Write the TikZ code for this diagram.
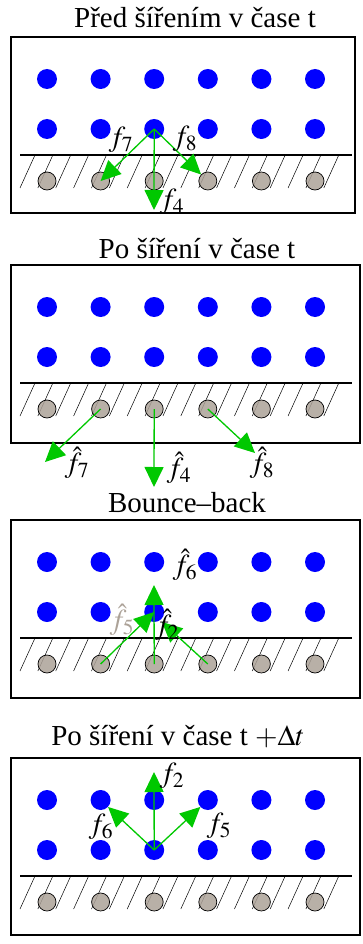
\documentclass[tikz,border=0pt]{standalone}
\usepackage{mathptmx}
\usepackage{fontspec}
\setmainfont{Liberation Serif}
\usetikzlibrary{arrows.meta}

\definecolor{flowgreen}{RGB}{0,200,0}
\definecolor{wallgray}{RGB}{172,162,152}

\tikzset{
  fluid/.style={circle,fill=blue,inner sep=0pt,minimum size=20pt},
  wallnode/.style={circle,draw=black,line width=0.7pt,fill=wallgray,fill opacity=0.85,inner sep=0pt,minimum size=18pt},
  flow/.style={draw=flowgreen,line width=1.3pt,-{Triangle[length=20pt,width=19pt]}},
  lab/.style={font=\fontsize{29}{29}\selectfont,inner sep=0pt},
  heading/.style={font=\fontsize{29}{29}\selectfont,anchor=base,inner sep=0pt}
}

% #1 prefix, #2 top of box, #3 right edge, #4 bottom of box
\newcommand{\lbmlattice}[4]{%
  \draw [line width=1.4pt] (11,#2) rectangle (#3,#4);
  \foreach \c in {0,...,5} {
    \node [fluid] (#1u\c) at (47+53.6*\c,#2+42) {};
    \node [fluid] (#1l\c) at (47+53.6*\c,#2+92) {};
  }
  \draw [line width=1.1pt] (20,#2+118) -- (352,#2+118);
  \foreach \k in {0,...,17}
    \draw [line width=0.5pt] (20+17.87*\k,#2+151) -- ++(15,-33);
  \foreach \c in {0,...,5}
    \node [wallnode] (#1w\c) at (47+53.6*\c,#2+144) {};
}

\begin{document}
\begin{tikzpicture}[x=1pt,y=-1pt]
    \useasboundingbox (0,0) rectangle (362,944);

    % before streaming
    \node [heading] (titleA) at (195,28) {Před šířením v čase t};
    \lbmlattice{a}{37}{355}{213}
    \coordinate (aend4) at (154,210);
    \draw [flow] (al2.center) -- (aw1.center);
    \draw [flow] (al2.center) -- (aend4);
    \draw [flow] (al2.center) -- (aw3);
    \node [lab] (af7) at (121,140) {$f_7$};
    \node [lab] (af8) at (185,139) {$f_8$};
    \node [lab] (af4) at (172,202) {$f_4$};

    % after streaming
    \node [heading] (titleB) at (197,258) {Po šíření v čase t};
    \lbmlattice{b}{265}{360}{443}
    \coordinate (bend7) at (45,462);
    \coordinate (bend4) at (154,487);
    \coordinate (bend8) at (255,453);
    \draw [flow] (bw1.center) -- (bend7);
    \draw [flow] (bw2.center) -- (bend4);
    \draw [flow] (bw3.center) -- (bend8);
    \node [lab] (bf7) at (77,463) {$\hat{f}_7$};
    \node [lab] (bf4) at (179,468) {$\hat{f}_4$};
    \node [lab] (bf8) at (262,463) {$\hat{f}_8$};

    % bounce-back
    \node [heading] (titleC) at (187,512) {Bounce–back};
    \lbmlattice{c}{520}{360}{698}
    \coordinate (cend6) at (154,585);
    \coordinate (cend2) at (162,622);
    \draw [flow] (cw1.center) -- (cl2.center);
    \draw [flow] (cw2.center) -- (cend6);
    \draw [flow] (cw3.center) -- (cend2);
    \node [lab] (cf6) at (185,565) {$\hat{f}_6$};
    \node [lab,text=wallgray] (cf5) at (122,620) {$\hat{f}_5$};
    \node [lab] (cf2) at (167,625) {$\hat{f}_2$};

    % after streaming, next step
    \node [heading] (titleD) at (178,745) {Po šíření v čase t $+\Delta t$};
    \lbmlattice{d}{758}{360}{935}
    \coordinate (dend2) at (154,772);
    \draw [flow] (dl2.center) -- (dend2);
    \draw [flow] (dl2.center) -- (du1);
    \draw [flow] (dl2.center) -- (du3);
    \node [lab] (df2) at (172,776) {$f_2$};
    \node [lab] (df6) at (101,827) {$f_6$};
    \node [lab] (df5) at (219,826) {$f_5$};
\end{tikzpicture}
\end{document}
